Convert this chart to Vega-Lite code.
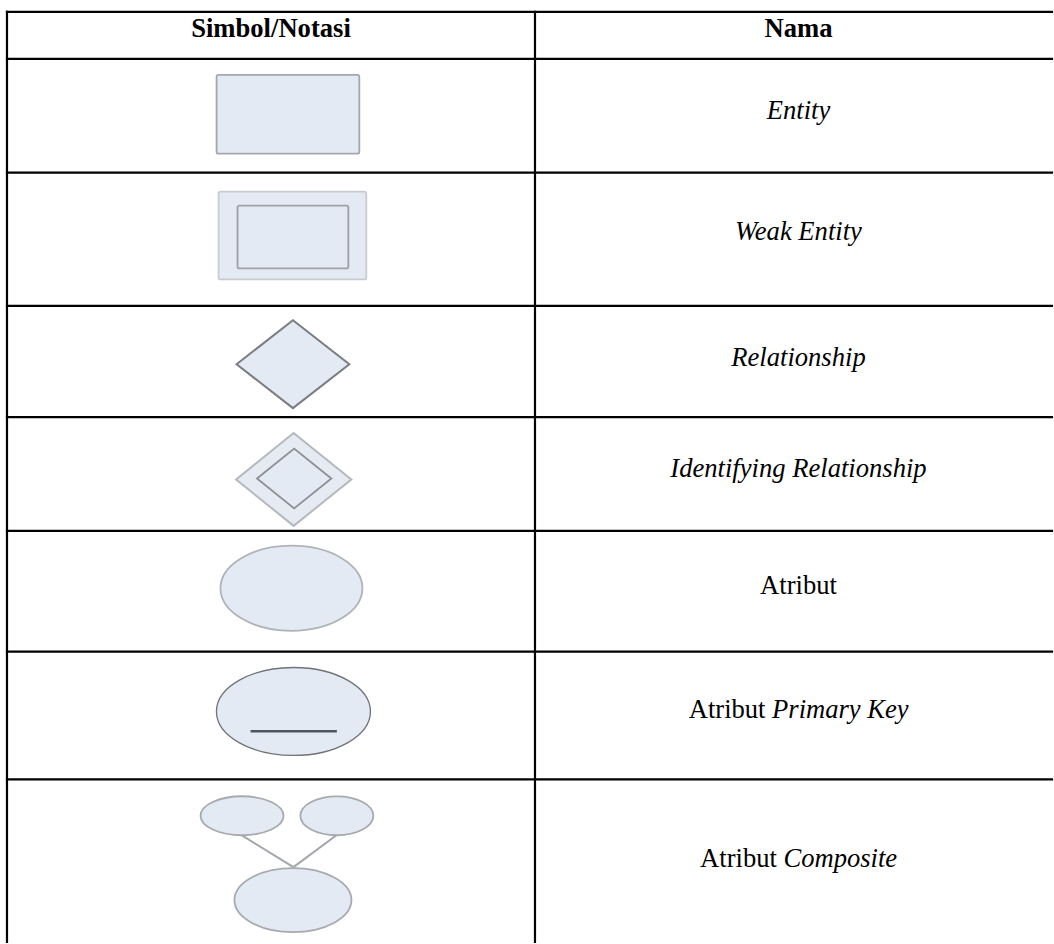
{
  "$schema": "https://vega.github.io/schema/vega-lite/v6.json",
  "width": 1054,
  "height": 944,
  "autosize": {"type": "fit", "contains": "padding"},
  "padding": 0,
  "background": "white",
  "config": {"view": {"stroke": null}},
  "datasets": {
    "grid": [
      {"x1": 7, "x2": 1054, "y1": 12, "y2": 12},
      {"x1": 7, "x2": 1054, "y1": 59, "y2": 59},
      {"x1": 7, "x2": 1054, "y1": 173, "y2": 173},
      {"x1": 7, "x2": 1054, "y1": 306.5, "y2": 306.5},
      {"x1": 7, "x2": 1054, "y1": 418, "y2": 418},
      {"x1": 7, "x2": 1054, "y1": 532, "y2": 532},
      {"x1": 7, "x2": 1054, "y1": 653, "y2": 653},
      {"x1": 7, "x2": 1054, "y1": 781, "y2": 781},
      {"x1": 7, "x2": 7, "y1": 12, "y2": 944},
      {"x1": 536, "x2": 536, "y1": 12, "y2": 944}
    ],
    "rects": [
      {"part": "entity", "x1": 217, "x2": 360, "y1": 75, "y2": 154},
      {"part": "weak-outer", "x1": 219, "x2": 367, "y1": 192, "y2": 280},
      {"part": "weak-inner", "x1": 238, "x2": 349, "y1": 206, "y2": 269}
    ],
    "diamonds": [
      {"part": "rel", "x": 237, "top": 365, "bottom": 365},
      {"part": "rel", "x": 293.5, "top": 321, "bottom": 409},
      {"part": "rel", "x": 350, "top": 365, "bottom": 365},
      {"part": "idrel-outer", "x": 236.5, "top": 480.5, "bottom": 480.5},
      {"part": "idrel-outer", "x": 294.2, "top": 434, "bottom": 527},
      {"part": "idrel-outer", "x": 352, "top": 480.5, "bottom": 480.5},
      {"part": "idrel-inner", "x": 257.5, "top": 479.5, "bottom": 479.5},
      {"part": "idrel-inner", "x": 294.7, "top": 449.5, "bottom": 509.5},
      {"part": "idrel-inner", "x": 332, "top": 479.5, "bottom": 479.5}
    ],
    "ellipses": [
      {"part": "atribut", "x": 292, "y": 589.5},
      {"part": "pk", "x": 294, "y": 713},
      {"part": "comp-left", "x": 242.5, "y": 817.5},
      {"part": "comp-right", "x": 337.5, "y": 817.5},
      {"part": "comp-main", "x": 293.5, "y": 902}
    ],
    "links": [
      {"part": "pk-underline", "x1": 251, "x2": 337.5, "y1": 732.7, "y2": 732.7},
      {"part": "comp-link", "x1": 242, "x2": 294, "y1": 837, "y2": 869},
      {"part": "comp-link", "x1": 337, "x2": 294, "y1": 837, "y2": 869}
    ],
    "labels": [
      {"kind": "header", "text": "Simbol/Notasi", "x": 271.5, "y": 37},
      {"kind": "header", "text": "Nama", "x": 800, "y": 37},
      {"kind": "term", "text": "Entity", "x": 800, "y": 119.5},
      {"kind": "term", "text": "Weak Entity", "x": 800, "y": 241},
      {"kind": "term", "text": "Relationship", "x": 800, "y": 367},
      {"kind": "term", "text": "Identifying Relationship", "x": 800, "y": 478},
      {"kind": "word", "text": "Atribut", "x": 800, "y": 595},
      {"kind": "word-left", "text": "Atribut", "x": 690, "y": 720},
      {"kind": "term-left", "text": "Primary Key", "x": 773.5, "y": 720},
      {"kind": "word-left", "text": "Atribut", "x": 701.4, "y": 869},
      {"kind": "term-left", "text": "Composite", "x": 784.9, "y": 869}
    ]
  },
  "layer": [
    {
      "data": {"name": "rects"},
      "mark": {"type": "rect", "fill": "#e4eaf4", "strokeWidth": 1.8, "cornerRadius": 2},
      "encoding": {
        "x": {"field": "x1", "type": "quantitative", "scale": {"domain": [0, 1054], "nice": false, "zero": false}, "axis": null},
        "x2": {"field": "x2"},
        "y": {"field": "y1", "type": "quantitative", "scale": {"domain": [0, 944], "nice": false, "zero": false, "reverse": true}, "axis": null},
        "y2": {"field": "y2"},
        "stroke": {"field": "part", "type": "nominal", "scale": {"domain": ["entity", "weak-outer", "weak-inner"], "range": ["#a4a7ab", "#c8cbd0", "#9da1a6"]}, "legend": null}
      }
    },
    {
      "data": {"name": "diamonds"},
      "transform": [{"filter": "datum.part === 'rel'"}],
      "mark": {"type": "area", "orient": "vertical", "fill": "#e4eaf4", "fillOpacity": 1, "stroke": "#7b7d80", "strokeWidth": 2, "strokeJoin": "miter"},
      "encoding": {
        "x": {"field": "x", "type": "quantitative", "scale": {"domain": [0, 1054], "nice": false, "zero": false}, "axis": null},
        "y": {"field": "top", "type": "quantitative", "scale": {"domain": [0, 944], "nice": false, "zero": false, "reverse": true}, "axis": null},
        "y2": {"field": "bottom"}
      }
    },
    {
      "data": {"name": "diamonds"},
      "transform": [{"filter": "datum.part === 'idrel-outer'"}],
      "mark": {"type": "area", "orient": "vertical", "fill": "#e6ebf3", "fillOpacity": 1, "stroke": "#b5b8bc", "strokeWidth": 2, "strokeJoin": "miter"},
      "encoding": {
        "x": {"field": "x", "type": "quantitative", "scale": {"domain": [0, 1054], "nice": false, "zero": false}, "axis": null},
        "y": {"field": "top", "type": "quantitative", "scale": {"domain": [0, 944], "nice": false, "zero": false, "reverse": true}, "axis": null},
        "y2": {"field": "bottom"}
      }
    },
    {
      "data": {"name": "diamonds"},
      "transform": [{"filter": "datum.part === 'idrel-inner'"}],
      "mark": {"type": "area", "orient": "vertical", "fill": "#e4eaf4", "fillOpacity": 1, "stroke": "#8c8f93", "strokeWidth": 1.8, "strokeJoin": "miter"},
      "encoding": {
        "x": {"field": "x", "type": "quantitative", "scale": {"domain": [0, 1054], "nice": false, "zero": false}, "axis": null},
        "y": {"field": "top", "type": "quantitative", "scale": {"domain": [0, 944], "nice": false, "zero": false, "reverse": true}, "axis": null},
        "y2": {"field": "bottom"}
      }
    },
    {
      "data": {"name": "links"},
      "transform": [{"filter": "datum.part === 'comp-link'"}],
      "mark": {"type": "rule", "stroke": "#a3a6aa", "strokeWidth": 2},
      "encoding": {
        "x": {"field": "x1", "type": "quantitative", "scale": {"domain": [0, 1054], "nice": false, "zero": false}, "axis": null},
        "x2": {"field": "x2"},
        "y": {"field": "y1", "type": "quantitative", "scale": {"domain": [0, 944], "nice": false, "zero": false, "reverse": true}, "axis": null},
        "y2": {"field": "y2"}
      }
    },
    {
      "data": {"name": "ellipses"},
      "transform": [{"filter": "datum.part === 'atribut'"}],
      "mark": {"type": "point", "filled": true, "fill": "#e4eaf4", "stroke": "#b0b3b7", "strokeWidth": 1.8, "opacity": 1, "fillOpacity": 1, "strokeOpacity": 1, "size": 20164, "shape": "M-1,0A1,0.599,0,1,1,1,0A1,0.599,0,1,1,-1,0Z"},
      "encoding": {
        "x": {"field": "x", "type": "quantitative", "scale": {"domain": [0, 1054], "nice": false, "zero": false}, "axis": null},
        "y": {"field": "y", "type": "quantitative", "scale": {"domain": [0, 944], "nice": false, "zero": false, "reverse": true}, "axis": null}
      }
    },
    {
      "data": {"name": "ellipses"},
      "transform": [{"filter": "datum.part === 'pk'"}],
      "mark": {"type": "point", "filled": true, "fill": "#e4eaf4", "stroke": "#6f7276", "strokeWidth": 1.3, "opacity": 1, "fillOpacity": 1, "strokeOpacity": 1, "size": 23716, "shape": "M-1,0A1,0.571,0,1,1,1,0A1,0.571,0,1,1,-1,0Z"},
      "encoding": {
        "x": {"field": "x", "type": "quantitative", "scale": {"domain": [0, 1054], "nice": false, "zero": false}, "axis": null},
        "y": {"field": "y", "type": "quantitative", "scale": {"domain": [0, 944], "nice": false, "zero": false, "reverse": true}, "axis": null}
      }
    },
    {
      "data": {"name": "ellipses"},
      "transform": [{"filter": "datum.part === 'comp-left'"}],
      "mark": {"type": "point", "filled": true, "fill": "#e4eaf4", "stroke": "#a7aaae", "strokeWidth": 1.8, "opacity": 1, "fillOpacity": 1, "strokeOpacity": 1, "size": 6889, "shape": "M-1,0A1,0.47,0,1,1,1,0A1,0.47,0,1,1,-1,0Z"},
      "encoding": {
        "x": {"field": "x", "type": "quantitative", "scale": {"domain": [0, 1054], "nice": false, "zero": false}, "axis": null},
        "y": {"field": "y", "type": "quantitative", "scale": {"domain": [0, 944], "nice": false, "zero": false, "reverse": true}, "axis": null}
      }
    },
    {
      "data": {"name": "ellipses"},
      "transform": [{"filter": "datum.part === 'comp-right'"}],
      "mark": {"type": "point", "filled": true, "fill": "#e4eaf4", "stroke": "#a7aaae", "strokeWidth": 1.8, "opacity": 1, "fillOpacity": 1, "strokeOpacity": 1, "size": 5329, "shape": "M-1,0A1,0.534,0,1,1,1,0A1,0.534,0,1,1,-1,0Z"},
      "encoding": {
        "x": {"field": "x", "type": "quantitative", "scale": {"domain": [0, 1054], "nice": false, "zero": false}, "axis": null},
        "y": {"field": "y", "type": "quantitative", "scale": {"domain": [0, 944], "nice": false, "zero": false, "reverse": true}, "axis": null}
      }
    },
    {
      "data": {"name": "ellipses"},
      "transform": [{"filter": "datum.part === 'comp-main'"}],
      "mark": {"type": "point", "filled": true, "fill": "#e4eaf4", "stroke": "#a7aaae", "strokeWidth": 1.8, "opacity": 1, "fillOpacity": 1, "strokeOpacity": 1, "size": 13689, "shape": "M-1,0A1,0.547,0,1,1,1,0A1,0.547,0,1,1,-1,0Z"},
      "encoding": {
        "x": {"field": "x", "type": "quantitative", "scale": {"domain": [0, 1054], "nice": false, "zero": false}, "axis": null},
        "y": {"field": "y", "type": "quantitative", "scale": {"domain": [0, 944], "nice": false, "zero": false, "reverse": true}, "axis": null}
      }
    },
    {
      "data": {"name": "links"},
      "transform": [{"filter": "datum.part === 'pk-underline'"}],
      "mark": {"type": "rule", "stroke": "#4d5761", "strokeWidth": 2.5},
      "encoding": {
        "x": {"field": "x1", "type": "quantitative", "scale": {"domain": [0, 1054], "nice": false, "zero": false}, "axis": null},
        "x2": {"field": "x2"},
        "y": {"field": "y1", "type": "quantitative", "scale": {"domain": [0, 944], "nice": false, "zero": false, "reverse": true}, "axis": null},
        "y2": {"field": "y2"}
      }
    },
    {
      "data": {"name": "grid"},
      "mark": {"type": "rule", "stroke": "#000000", "strokeWidth": 2.2, "strokeCap": "square"},
      "encoding": {
        "x": {"field": "x1", "type": "quantitative", "scale": {"domain": [0, 1054], "nice": false, "zero": false}, "axis": null},
        "x2": {"field": "x2"},
        "y": {"field": "y1", "type": "quantitative", "scale": {"domain": [0, 944], "nice": false, "zero": false, "reverse": true}, "axis": null},
        "y2": {"field": "y2"}
      }
    },
    {
      "data": {"name": "labels"},
      "transform": [{"filter": "datum.kind === 'header'"}],
      "mark": {"type": "text", "font": "Liberation Serif", "fontSize": 26.6, "fontWeight": "bold", "align": "center", "baseline": "alphabetic", "color": "#000000"},
      "encoding": {
        "x": {"field": "x", "type": "quantitative", "scale": {"domain": [0, 1054], "nice": false, "zero": false}, "axis": null},
        "y": {"field": "y", "type": "quantitative", "scale": {"domain": [0, 944], "nice": false, "zero": false, "reverse": true}, "axis": null},
        "text": {"field": "text"}
      }
    },
    {
      "data": {"name": "labels"},
      "transform": [{"filter": "datum.kind === 'term'"}],
      "mark": {"type": "text", "font": "Liberation Serif", "fontSize": 26.6, "fontStyle": "italic", "align": "center", "baseline": "alphabetic", "color": "#000000"},
      "encoding": {
        "x": {"field": "x", "type": "quantitative", "scale": {"domain": [0, 1054], "nice": false, "zero": false}, "axis": null},
        "y": {"field": "y", "type": "quantitative", "scale": {"domain": [0, 944], "nice": false, "zero": false, "reverse": true}, "axis": null},
        "text": {"field": "text"}
      }
    },
    {
      "data": {"name": "labels"},
      "transform": [{"filter": "datum.kind === 'word'"}],
      "mark": {"type": "text", "font": "Liberation Serif", "fontSize": 26.6, "align": "center", "baseline": "alphabetic", "color": "#000000"},
      "encoding": {
        "x": {"field": "x", "type": "quantitative", "scale": {"domain": [0, 1054], "nice": false, "zero": false}, "axis": null},
        "y": {"field": "y", "type": "quantitative", "scale": {"domain": [0, 944], "nice": false, "zero": false, "reverse": true}, "axis": null},
        "text": {"field": "text"}
      }
    },
    {
      "data": {"name": "labels"},
      "transform": [{"filter": "datum.kind === 'word-left'"}],
      "mark": {"type": "text", "font": "Liberation Serif", "fontSize": 26.6, "align": "left", "baseline": "alphabetic", "color": "#000000"},
      "encoding": {
        "x": {"field": "x", "type": "quantitative", "scale": {"domain": [0, 1054], "nice": false, "zero": false}, "axis": null},
        "y": {"field": "y", "type": "quantitative", "scale": {"domain": [0, 944], "nice": false, "zero": false, "reverse": true}, "axis": null},
        "text": {"field": "text"}
      }
    },
    {
      "data": {"name": "labels"},
      "transform": [{"filter": "datum.kind === 'term-left'"}],
      "mark": {"type": "text", "font": "Liberation Serif", "fontSize": 26.6, "fontStyle": "italic", "align": "left", "baseline": "alphabetic", "color": "#000000"},
      "encoding": {
        "x": {"field": "x", "type": "quantitative", "scale": {"domain": [0, 1054], "nice": false, "zero": false}, "axis": null},
        "y": {"field": "y", "type": "quantitative", "scale": {"domain": [0, 944], "nice": false, "zero": false, "reverse": true}, "axis": null},
        "text": {"field": "text"}
      }
    }
  ]
}
